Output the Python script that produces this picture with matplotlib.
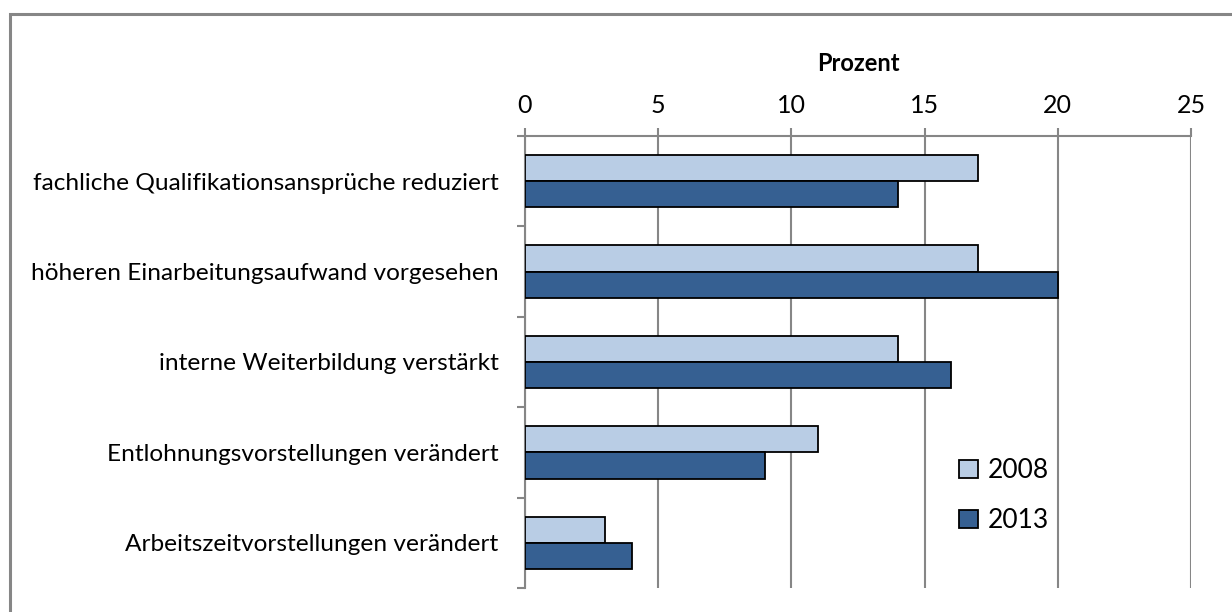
import numpy as np
import matplotlib.pyplot as plt
from matplotlib.patches import Rectangle

plt.rcParams['font.family'] = ['Lato', 'DejaVu Sans']

categories = ["fachliche Qualifikationsansprüche reduziert",
              "höheren Einarbeitungsaufwand vorgesehen",
              "interne Weiterbildung verstärkt",
              "Entlohnungsvorstellungen verändert",
              "Arbeitszeitvorstellungen verändert"]
vals_2008 = [17, 17, 14, 11, 3]
vals_2013 = [14, 20, 16, 9, 4]
xticks = [0, 5, 10, 15, 20, 25]

grey = "#868686"
light = "#b9cde5"
dark = "#366092"

fig = plt.figure(figsize=(12.32, 6.12), dpi=100)
ax = fig.add_axes([525/1232, 1 - 588/612, (1191-525)/1232, (588-136)/612])

# outer frame of the chart area
fig.patches.append(Rectangle((9.5/1232, -0.1), 1.2, 1 - 13.5/612 + 0.1,
                             transform=fig.transFigure, fill=False,
                             edgecolor=grey, linewidth=2.2, zorder=0))

y = np.arange(len(categories))
h = 0.29
ax.barh(y - h/2, vals_2008, height=h, color=light, edgecolor="black",
        linewidth=1.3, label="2008", zorder=3)
ax.barh(y + h/2, vals_2013, height=h, color=dark, edgecolor="black",
        linewidth=1.3, label="2013", zorder=3)

ax.set_xlim(0, 25)
ax.set_ylim(len(categories) - 0.5, -0.5)
ax.set_xticks(xticks)
ax.xaxis.tick_top()
ax.xaxis.set_label_position("top")
ax.set_xlabel("Prozent", fontsize=17, fontweight="bold", labelpad=16)
ax.tick_params(axis="x", length=6, width=1.5, color=grey, labelsize=18, pad=8)
ax.grid(axis="x", color=grey, linewidth=1.5, zorder=0)

ax.set_yticks(np.arange(len(categories) + 1) - 0.5)
ax.set_yticklabels([])
ax.set_yticks(y, minor=True)
ax.set_yticklabels(categories, minor=True, fontsize=17.6)
ax.tick_params(axis="y", which="major", length=6, width=1.5, color=grey)
ax.tick_params(axis="y", which="minor", length=0, pad=19)

for side in ["right", "bottom"]:
    ax.spines[side].set_visible(False)
for side in ["left", "top"]:
    ax.spines[side].set_color(grey)
    ax.spines[side].set_linewidth(1.5)

ax.legend(loc="center left", bbox_to_anchor=(0.632, 0.204), frameon=False,
          fontsize=19, handlelength=0.7, handleheight=0.7, handletextpad=0.4,
          labelspacing=0.95, borderpad=0)

fig.savefig("out.png", dpi=100)
